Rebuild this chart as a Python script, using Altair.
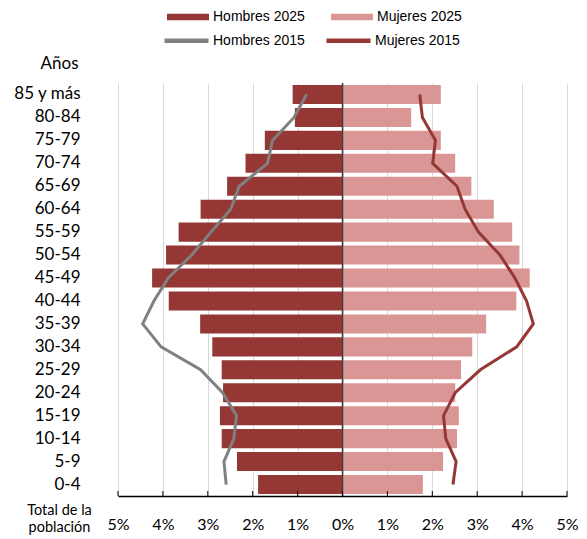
import altair as alt
import pandas as pd

ages = ["85 y más", "80-84", "75-79", "70-74", "65-69", "60-64", "55-59", "50-54",
        "45-49", "40-44", "35-39", "30-34", "25-29", "20-24", "15-19", "10-14", "5-9", "0-4"]
hombres_2025 = [1.11, 1.06, 1.73, 2.16, 2.57, 3.16, 3.65, 3.93, 4.24, 3.87, 3.17, 2.90,
                2.69, 2.66, 2.73, 2.69, 2.35, 1.88]
mujeres_2025 = [2.19, 1.53, 2.19, 2.51, 2.87, 3.37, 3.78, 3.94, 4.17, 3.87, 3.20, 2.89,
                2.64, 2.51, 2.59, 2.55, 2.24, 1.79]
hombres_2015 = [0.80, 1.08, 1.56, 1.67, 2.30, 2.49, 2.93, 3.36, 3.88, 4.20, 4.45, 4.04,
                3.16, 2.67, 2.36, 2.42, 2.64, 2.59]
mujeres_2015 = [1.72, 1.78, 2.07, 2.01, 2.55, 2.73, 3.03, 3.51, 3.84, 4.10, 4.25, 3.88,
                3.07, 2.51, 2.25, 2.30, 2.53, 2.46]
tick_values = [-5, -4, -3, -2, -1, 0, 1, 2, 3, 4, 5]

bars = pd.DataFrame(
    [{"age": a, "value": -v, "serie": "Hombres 2025"} for a, v in zip(ages, hombres_2025)]
    + [{"age": a, "value": v, "serie": "Mujeres 2025"} for a, v in zip(ages, mujeres_2025)]
)
lines = pd.DataFrame(
    [{"age": a, "value": -v, "serie2": "Hombres 2015", "idx": i} for i, (a, v) in enumerate(zip(ages, hombres_2015))]
    + [{"age": a, "value": v, "serie2": "Mujeres 2015", "idx": i} for i, (a, v) in enumerate(zip(ages, mujeres_2015))]
)
ticks_df = pd.DataFrame({"t": tick_values})

LAB_FONT = "Lato"
LEG_FONT = "Liberation Sans"

x_enc = alt.X(
    "value:Q",
    scale=alt.Scale(domain=[-5, 5], nice=False),
    axis=alt.Axis(
        values=tick_values,
        labelExpr="abs(datum.value) + '%'",
        labelFlush=False, labelOverlap=False,
        grid=True, gridColor="#d9d9d9", gridWidth=1,
        domainColor="#000000", domainWidth=1.5,
        ticks=False, labelPadding=20, labelFontSize=16, labelFont=LAB_FONT,
        labelColor="#000000",
        title=["Total de la", "población"], titleX=-59, titleY=7,
        titleBaseline="top", titleAlign="center", titleFontSize=14.5,
        titleFont=LAB_FONT, titleFontWeight="normal", titleLineHeight=17,
        titleColor="#000000",
    ),
)
y_enc = alt.Y(
    "age:N", sort=ages,
    scale=alt.Scale(paddingInner=0.17, paddingOuter=0.085),
    axis=alt.Axis(
        title="Años", titleAngle=0, titleAlign="right", titleX=-40, titleY=-20,
        titleBaseline="middle", titleFontSize=17, titleFont=LAB_FONT,
        titleFontWeight="normal", titleColor="#000000",
        labelPadding=38, domain=False, ticks=False, labelFontSize=17,
        labelFont=LAB_FONT, labelColor="#000000",
    ),
)

bar_layer = alt.Chart(bars).mark_bar().encode(
    x=x_enc,
    y=y_enc,
    color=alt.Color(
        "serie:N",
        scale=alt.Scale(domain=["Hombres 2025", "Mujeres 2025"], range=["#953735", "#D99694"]),
        legend=alt.Legend(
            orient="none", legendX=49, legendY=-87, direction="horizontal", title=None,
            symbolType="M-1,-0.16H1V0.16H-1Z", symbolSize=1764, symbolStrokeWidth=0,
            labelFont=LEG_FONT, labelFontSize=14, labelColor="#000000",
            labelOffset=4, columnPadding=26, padding=0,
        ),
    ),
)

zero_rule = alt.Chart(pd.DataFrame({"z": [0]})).mark_rule(color="#404040", strokeWidth=1.5).encode(
    x="z:Q"
)

line_layer = alt.Chart(lines).mark_line(strokeWidth=3).encode(
    x="value:Q",
    y=alt.Y("age:N", sort=ages),
    order="idx:Q",
    stroke=alt.Stroke(
        "serie2:N",
        scale=alt.Scale(domain=["Hombres 2015", "Mujeres 2015"], range=["#808080", "#953735"]),
        legend=alt.Legend(
            orient="none", legendX=44, legendY=-67, direction="horizontal", title=None,
            symbolType="stroke", symbolSize=1936, symbolStrokeWidth=4.5,
            labelFont=LEG_FONT, labelFontSize=14, labelColor="#000000",
            labelOffset=2, columnPadding=12, padding=0,
        ),
    ),
)

tick_layer = alt.Chart(ticks_df).mark_rule(color="#000000", strokeWidth=1).encode(
    x="t:Q", y=alt.value(413), y2=alt.value(408)
)

chart = alt.layer(bar_layer, zero_rule, line_layer, tick_layer).resolve_scale(
    color="independent", stroke="independent"
).properties(
    width=449, height=413,
    autosize=alt.AutoSizeParams(type="none"),
    padding={"left": 110, "top": 75, "right": 12, "bottom": 40},
).configure_view(strokeWidth=0)

chart.save("out.html", embed_options={"renderer": "svg", "actions": False})
